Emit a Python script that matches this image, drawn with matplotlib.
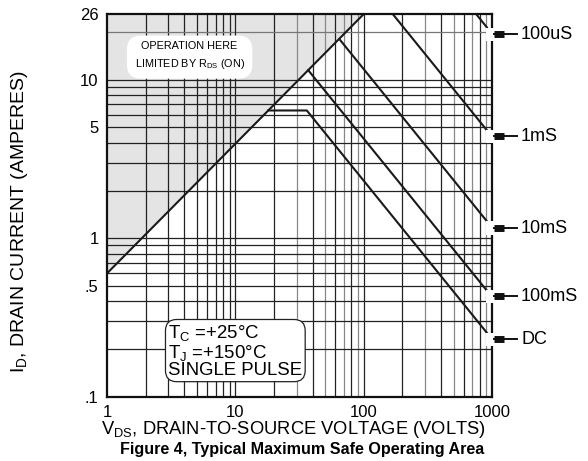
import numpy as np
import matplotlib
matplotlib.use('Agg')
import matplotlib.pyplot as plt
from matplotlib.patches import Rectangle

plt.rcParams['font.family'] = ['Liberation Sans', 'DejaVu Sans']
plt.rcParams['mathtext.default'] = 'regular'

# RDS(on) limit line
rds_v = [1, 100]
rds_i = [0.6, 26]

# pulse curves (V, I)
dc_v = [18, 36, 910]
dc_i = [6.4, 6.4, 0.253]
ms100_v = [36.9, 910]
ms100_i = [11.5, 0.467]
ms10_v = [65.5, 910]
ms10_i = [17.8, 1.28]
ms1_v = [168, 910]
ms1_i = [26, 4.8]
us100_v = [750, 910]
us100_i = [26, 21.4]

curve_labels = ['100uS', '1mS', '10mS', '100mS', 'DC']
curve_label_i = [19.4, 4.4, 1.16, 0.43, 0.23]

xticks = [1, 10, 100, 1000]
xticklabels = ['1', '10', '100', '1000']
yticks = [0.1, 0.5, 1, 5, 10, 26]
yticklabels = ['.1', '.5', '1', '5', '10', '26']

fig = plt.figure(figsize=(5.88, 4.61), dpi=100)
ax = fig.add_axes([0.182, 0.1395, 0.655, 0.8301])
ax.set_xscale('log')
ax.set_yscale('log')
ax.set_xlim(1, 1000)
ax.set_ylim(0.1, 26)

# shaded region above RDS line
fv = np.logspace(0, 2, 50)
fi = np.interp(np.log10(fv), np.log10(rds_v), np.log10(rds_i))
ax.fill_between(fv, 10 ** fi, 26, color='#e4e4e4', lw=0, zorder=0)

# grid
for dec in [1, 10, 100]:
    for m in range(2, 10):
        v = dec * m
        col = '#222222' if dec == 1 else ('#222222' if m in (2, 4, 6, 8) else '#888888')
        ax.axvline(v, color=col, lw=0.9, zorder=1)
for dec in [0.1, 1, 10]:
    for m in range(2, 10):
        y = dec * m
        if y > 26:
            continue
        col = '#777777' if y == 20 else '#222222'
        ax.axhline(y, color=col, lw=0.9, zorder=1)
for y in [1, 10]:
    ax.axhline(y, color='#222222', lw=0.9, zorder=1)
for v in [10, 100]:
    ax.axvline(v, color='#222222', lw=0.9, zorder=1)

lw = 1.5
ax.plot(rds_v, rds_i, color='#1a1a1a', lw=lw, zorder=3)
for vv, ii in [(dc_v, dc_i), (ms100_v, ms100_i), (ms10_v, ms10_i),
               (ms1_v, ms1_i), (us100_v, us100_i)]:
    ax.plot(vv, ii, color='#1a1a1a', lw=lw, zorder=3)

ax.set_xticks(xticks)
ax.set_xticklabels(xticklabels)
ax.set_yticks(yticks)
ax.set_yticklabels(yticklabels)
ax.minorticks_off()
ax.tick_params(length=0, labelsize=12, pad=6)
for s in ax.spines.values():
    s.set_linewidth(1.6)
    s.set_color('#111111')
    s.set_zorder(4)

# right-side curve labels
tr = ax.get_yaxis_transform()
for lab, yi in zip(curve_labels, curve_label_i):
    r = Rectangle((0.984, yi / 1.1), 0.034, yi * 1.1 - yi / 1.1, transform=tr,
                  facecolor='white', edgecolor='none', clip_on=False, zorder=5)
    ax.add_patch(r)
    ax.plot([1.005, 1.065], [yi, yi], transform=tr, color='#111111', lw=1.4,
            clip_on=False, zorder=6)
    ax.plot([1.005, 1.032], [yi, yi], transform=tr, color='#111111', lw=5,
            clip_on=False, zorder=6, solid_capstyle='butt')
    ax.text(1.075, yi, lab, transform=tr, fontsize=13, va='center', ha='left')

ax.text(4.4, 14.1, 'OPERATION HERE\nLIMITED BY R$_{DS}$ (ON)', fontsize=7.8,
        ha='center', va='center', linespacing=1.6, zorder=5,
        bbox=dict(boxstyle='round,pad=0.7,rounding_size=1.3', fc='white', ec='none'))

ax.text(3.0, 0.194, 'T$_{C}$ =+25°C\nT$_{J}$ =+150°C\nSINGLE PULSE', fontsize=13.4,
        ha='left', va='center', linespacing=0.95, zorder=5,
        bbox=dict(boxstyle='round,pad=0.15,rounding_size=0.6', fc='white', ec='#222222', lw=0.9))

fig.text(0.034, 0.52, 'I$_{D}$, DRAIN CURRENT (AMPERES)', rotation=90, fontsize=14,
         ha='center', va='center')
fig.text(0.5, 0.068, 'V$_{DS}$, DRAIN-TO-SOURCE VOLTAGE (VOLTS)', fontsize=13.2,
         ha='center', va='center')
fig.text(0.513, 0.026, 'Figure 4, Typical Maximum Safe Operating Area', fontsize=11.6,
         fontweight='bold', ha='center', va='center')

fig.savefig('out.png', dpi=100)
